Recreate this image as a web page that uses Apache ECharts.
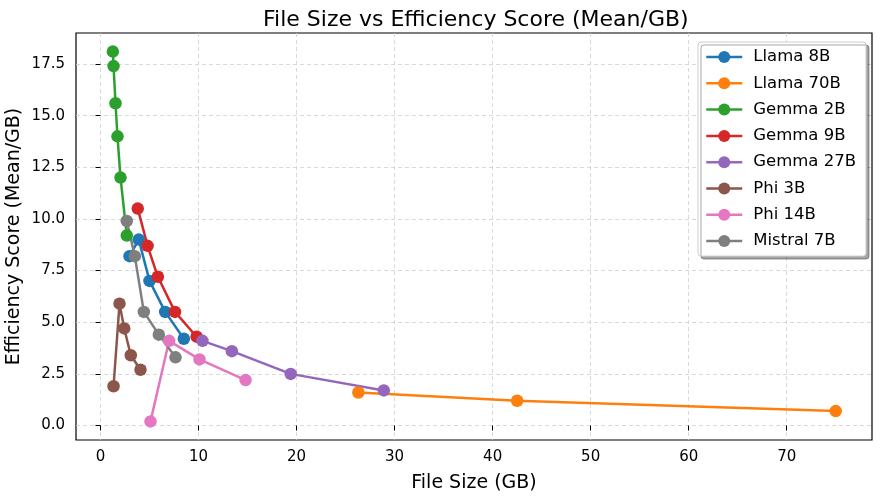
<!DOCTYPE html>
<html>
<head>
<meta charset="utf-8">
<script src="https://cdn.jsdelivr.net/npm/echarts@6/dist/echarts.min.js"></script>
<style>
  html, body { margin: 0; padding: 0; background: #fff; }
  #chart { width: 885px; height: 496px; }
</style>
</head>
<body>
<div id="chart"></div>
<script>
// file size (GB) / efficiency score per model
var llama8bSize = [2.96, 3.9, 5.0, 6.6, 8.5];
var llama8bScore = [8.2, 9.0, 7.0, 5.5, 4.2];
var llama70bSize = [26.3, 42.5, 75.0];
var llama70bScore = [1.6, 1.2, 0.7];
var gemma2bSize = [1.26, 1.33, 1.53, 1.73, 2.04, 2.68];
var gemma2bScore = [18.1, 17.4, 15.6, 14.0, 12.0, 9.2];
var gemma9bSize = [3.8, 4.8, 5.85, 7.6, 9.8];
var gemma9bScore = [10.5, 8.7, 7.2, 5.5, 4.3];
var gemma27bSize = [10.4, 13.4, 19.4, 28.9];
var gemma27bScore = [4.1, 3.6, 2.5, 1.7];
var phi3bSize = [1.33, 1.94, 2.42, 3.09, 4.08];
var phi3bScore = [1.9, 5.9, 4.7, 3.4, 2.7];
var phi14bSize = [5.1, 7.0, 10.1, 14.8];
var phi14bScore = [0.2, 4.1, 3.2, 2.2];
var mistral7bSize = [2.68, 3.5, 4.42, 5.95, 7.65];
var mistral7bScore = [9.9, 8.2, 5.5, 4.4, 3.3];

var xTicks = [0, 10, 20, 30, 40, 50, 60, 70];
var yTicks = [0, 2.5, 5, 7.5, 10, 12.5, 15, 17.5];

var models = [
  { name: 'Llama 8B', x: llama8bSize, y: llama8bScore, color: '#1f77b4' },
  { name: 'Llama 70B', x: llama70bSize, y: llama70bScore, color: '#ff7f0e' },
  { name: 'Gemma 2B', x: gemma2bSize, y: gemma2bScore, color: '#2ca02c' },
  { name: 'Gemma 9B', x: gemma9bSize, y: gemma9bScore, color: '#d62728' },
  { name: 'Gemma 27B', x: gemma27bSize, y: gemma27bScore, color: '#9467bd' },
  { name: 'Phi 3B', x: phi3bSize, y: phi3bScore, color: '#8c564b' },
  { name: 'Phi 14B', x: phi14bSize, y: phi14bScore, color: '#e377c2' },
  { name: 'Mistral 7B', x: mistral7bSize, y: mistral7bScore, color: '#7f7f7f' }
];

var font = 'DejaVu Sans';
var chart = echarts.init(document.getElementById('chart'), null, { renderer: 'canvas' });

var series = models.map(function (m) {
  return {
    name: m.name,
    type: 'line',
    data: m.x.map(function (v, i) { return [v, m.y[i]]; }),
    symbol: 'circle',
    symbolSize: 12.5,
    color: m.color,
    lineStyle: { width: 2.5, color: m.color },
    itemStyle: { color: m.color },
    emphasis: { disabled: true },
    animation: false
  };
});

var gridLine = { show: true, lineStyle: { color: '#cfcfcf', type: [4, 3], width: 0.8 } };

chart.setOption({
  backgroundColor: '#fff',
  animation: false,
  title: {
    text: 'File Size vs Efficiency Score (Mean/GB)',
    left: 258,
    top: 4,
    textStyle: { fontFamily: font, fontSize: 22, fontWeight: 'normal', color: '#000' }
  },
  grid: {
    left: 76, right: 13, top: 33, bottom: 56,
    outerBoundsMode: 'none',
    containLabel: false,
    show: true, borderColor: '#000', borderWidth: 1.2, backgroundColor: 'transparent'
  },
  legend: {
    orient: 'vertical',
    right: 19,
    top: 42,
    data: models.map(function (m) { return m.name; }),
    itemWidth: 36,
    itemHeight: 15,
    itemGap: 8.3,
    padding: [6, 10, 6, 7],
    lineStyle: { width: 2.5 },
    backgroundColor: '#fff',
    borderColor: '#cccccc',
    borderWidth: 1,
    borderRadius: 3,
    shadowColor: 'rgba(0,0,0,0.35)',
    shadowOffsetX: 3,
    shadowOffsetY: 3,
    shadowBlur: 0,
    textStyle: { fontFamily: font, fontSize: 16.5, color: '#000', lineHeight: 18, padding: [0, 0, 0, 6] }
  },
  xAxis: {
    type: 'value',
    min: -2.5,
    max: 78.7,
    name: 'File Size (GB)',
    nameLocation: 'middle',
    nameGap: 34,
    nameMoveOverlap: false,
    nameTextStyle: { fontFamily: font, fontSize: 19, color: '#000' },
    axisLine: { show: false },
    axisTick: { show: true, length: 5, lineStyle: { color: '#000' }, customValues: xTicks },
    axisLabel: { fontFamily: font, fontSize: 15, color: '#000', margin: 10, customValues: xTicks,
      formatter: function (v) { return String(v); } },
    splitLine: gridLine
  },
  yAxis: {
    type: 'value',
    min: -0.7,
    max: 19.0,
    name: 'Efficiency Score (Mean/GB)',
    nameLocation: 'middle',
    nameGap: 52,
    nameMoveOverlap: false,
    nameTextStyle: { fontFamily: font, fontSize: 19, color: '#000' },
    axisLine: { show: false },
    axisTick: { show: true, length: 5, lineStyle: { color: '#000' }, customValues: yTicks },
    axisLabel: { fontFamily: font, fontSize: 15, color: '#000', margin: 11, customValues: yTicks,
      formatter: function (v) { return v.toFixed(1); } },
    splitLine: gridLine
  },
  series: series
});
</script>
</body>
</html>
